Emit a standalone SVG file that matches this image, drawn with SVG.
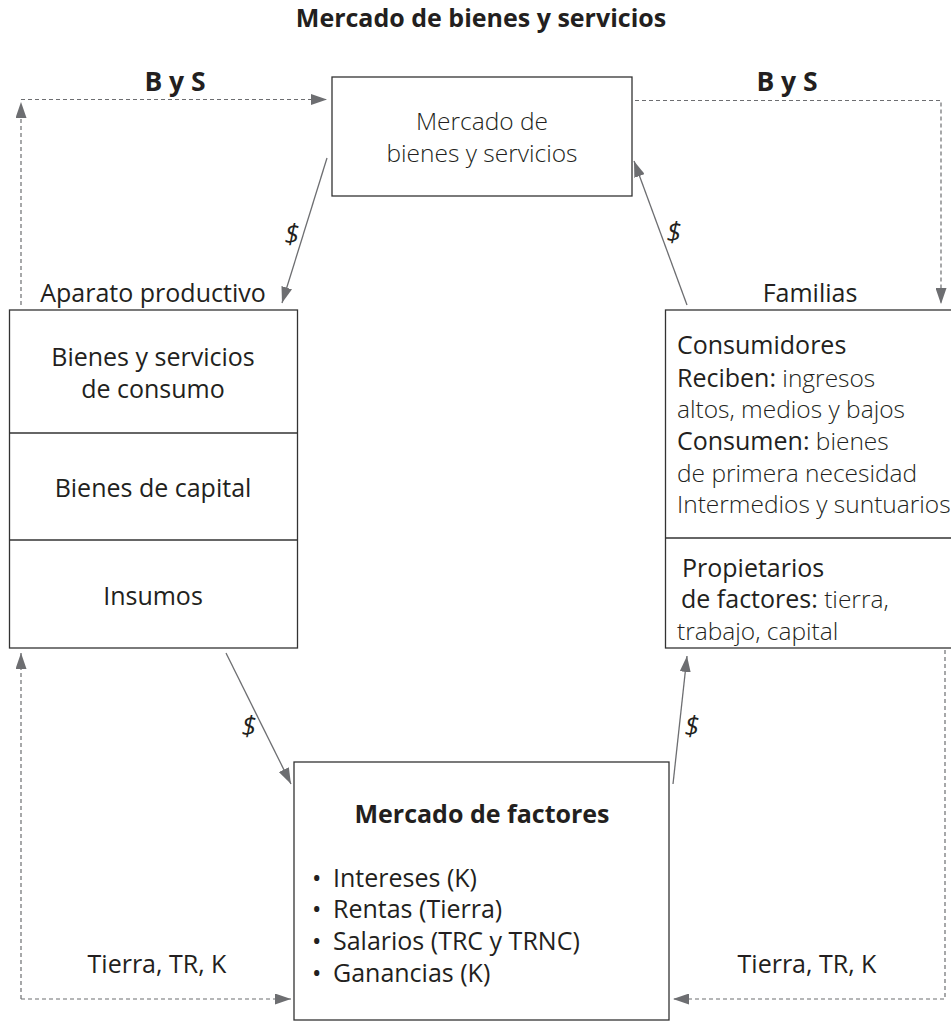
<svg xmlns="http://www.w3.org/2000/svg" width="951" height="1022" viewBox="0 0 951 1022">
<style>
text{font-family:"Open Sans","Noto Sans","DejaVu Sans",sans-serif;fill:#231f20}
.t{font-size:25px;font-weight:700}
.r{font-size:25px;font-weight:400}
.l{font-size:24.5px;font-weight:300}
.b{font-size:25px;font-weight:700}
.u{font-size:25px;font-weight:400}
.d{font-size:27px;font-style:italic;font-weight:400}
.box{fill:#fff;stroke:#333;stroke-width:1.3}
.sep{stroke:#333;stroke-width:1.3}
.sol{stroke:#6d6e71;stroke-width:1.3;fill:none}
.dash{stroke:#6d6e71;stroke-width:1.2;fill:none;stroke-dasharray:4 3}
</style>
<defs>
<marker id="ah" viewBox="0 0 16 11" refX="16" refY="5.5" markerWidth="16" markerHeight="11" markerUnits="userSpaceOnUse" orient="auto">
<path d="M0,0 L16,5.5 L0,11 Z" fill="#6d6e71"/>
</marker>
</defs>
<text class="t" x="481" y="27" text-anchor="middle">Mercado de bienes y servicios</text>
<g id="connectors">
<line class="dash" x1="21" y1="305" x2="21" y2="102" marker-end="url(#ah)"/>
<line class="dash" x1="21" y1="99.5" x2="327" y2="99.5" marker-end="url(#ah)"/>
<polyline class="dash" points="635,100.5 941,100.5 941,304" marker-end="url(#ah)"/>
<line class="dash" x1="21" y1="999" x2="21" y2="653" marker-end="url(#ah)"/>
<line class="dash" x1="21" y1="999" x2="291" y2="999" marker-end="url(#ah)"/>
<polyline class="dash" points="945,650 945,999 673,999" marker-end="url(#ah)"/>
<line class="sol" x1="327" y1="158" x2="282" y2="303" marker-end="url(#ah)"/>
<line class="sol" x1="687" y1="305" x2="634" y2="161" marker-end="url(#ah)"/>
<line class="sol" x1="226" y1="653" x2="291" y2="784" marker-end="url(#ah)"/>
<line class="sol" x1="673" y1="784" x2="687" y2="656" marker-end="url(#ah)"/>
<text class="t" x="175" y="91" text-anchor="middle" style="font-size:26.5px">B y S</text>
<text class="t" x="787" y="91" text-anchor="middle" style="font-size:26.5px">B y S</text>
<text class="d" x="292" y="244" text-anchor="middle">$</text>
<text class="d" x="674" y="242" text-anchor="middle">$</text>
<text class="d" x="249" y="736" text-anchor="middle">$</text>
<text class="d" x="692" y="736" text-anchor="middle">$</text>
<text class="r" x="157" y="973" text-anchor="middle">Tierra, TR, K</text>
<text class="r" x="807" y="973" text-anchor="middle">Tierra, TR, K</text>
</g>
<g id="mercado-bienes">
<rect class="box" x="332" y="77" width="300" height="119"/>
<text class="l" x="482" y="130" text-anchor="middle">Mercado de</text>
<text class="l" x="482" y="162" text-anchor="middle">bienes y servicios</text>
</g>
<g id="aparato-productivo">
<text class="r" x="153" y="302" text-anchor="middle">Aparato productivo</text>
<rect class="box" x="9.5" y="310" width="288" height="338"/>
<line class="sep" x1="9.5" y1="433" x2="297.5" y2="433"/>
<line class="sep" x1="9.5" y1="540" x2="297.5" y2="540"/>
<text class="r" x="153" y="366" text-anchor="middle">Bienes y servicios</text>
<text class="r" x="153" y="398" text-anchor="middle">de consumo</text>
<text class="r" x="153" y="497" text-anchor="middle">Bienes de capital</text>
<text class="r" x="153" y="605" text-anchor="middle">Insumos</text>
</g>
<g id="familias">
<text class="r" x="810" y="302" text-anchor="middle">Familias</text>
<rect class="box" x="665.5" y="310" width="300" height="338"/>
<line class="sep" x1="665.5" y1="538" x2="951" y2="538"/>
<text class="l"><tspan class="r" x="677" y="354">Consumidores</tspan><tspan class="r" x="677" y="387">Reciben:</tspan><tspan> ingresos</tspan><tspan x="677" y="418">altos, medios y bajos</tspan><tspan class="r" x="677" y="450">Consumen:</tspan><tspan> bienes</tspan><tspan x="677" y="482">de primera necesidad</tspan><tspan x="677" y="513">Intermedios y suntuarios</tspan></text>
<text class="l"><tspan class="r" x="682" y="577">Propietarios</tspan><tspan class="r" x="681" y="608">de factores:</tspan><tspan> tierra,</tspan><tspan x="677" y="640">trabajo, capital</tspan></text>
</g>
<g id="mercado-factores">
<rect class="box" x="294" y="762" width="375" height="258"/>
<text class="b" x="482" y="823" text-anchor="middle">Mercado de factores</text>
<text class="u"><tspan x="312" y="887">•</tspan><tspan x="333" y="887">Intereses (K)</tspan><tspan x="312" y="918">•</tspan><tspan x="333" y="918">Rentas (Tierra)</tspan><tspan x="312" y="950">•</tspan><tspan x="333" y="950">Salarios (TRC y TRNC)</tspan><tspan x="312" y="982">•</tspan><tspan x="333" y="982">Ganancias (K)</tspan></text>
</g>
</svg>
